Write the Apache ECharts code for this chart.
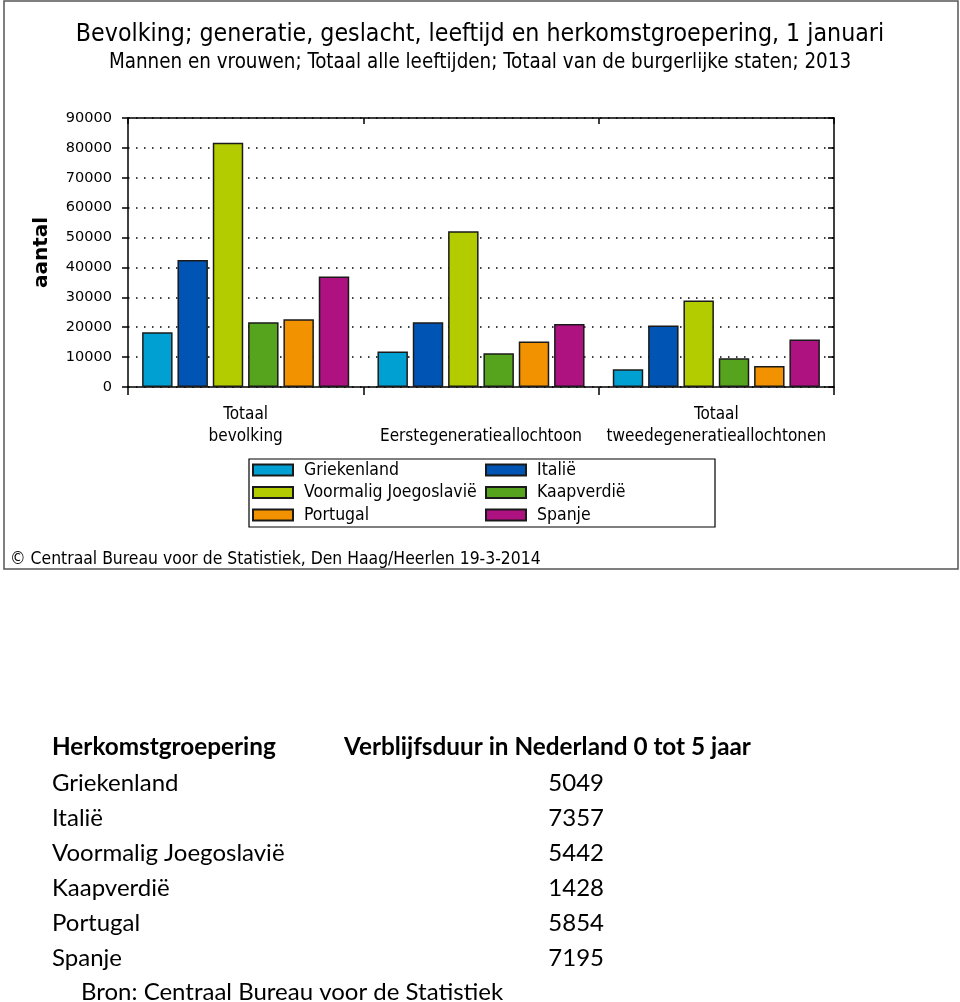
<!DOCTYPE html>
<html>
<head>
<meta charset="utf-8">
<script src="https://cdn.jsdelivr.net/npm/echarts@6/dist/echarts.min.js"></script>
<style>
html,body{margin:0;padding:0;background:#fff;}
#chart{width:960px;height:1002px;}
</style>
</head>
<body>
<div id="chart"></div>
<script>
// ---- data ----
var categories = ["Totaal\nbevolking", "Eerstegeneratieallochtoon", "Totaal\ntweedegeneratieallochtonen"];
var seriesNames = ["Griekenland", "Italië", "Voormalig Joegoslavië", "Kaapverdië", "Portugal", "Spanje"];
var griekenland = [18300, 11900, 5900];
var italie = [42500, 21700, 20600];
var joegoslavie = [81700, 52100, 28900];
var kaapverdie = [21700, 11300, 9600];
var portugal = [22700, 15200, 7000];
var spanje = [37000, 21100, 15900];
var yTicks = [0, 10000, 20000, 30000, 40000, 50000, 60000, 70000, 80000, 90000];

var tableHeader = ["Herkomstgroepering", "Verblijfsduur in Nederland 0 tot 5 jaar"];
var tableNames = ["Griekenland", "Italië", "Voormalig Joegoslavië", "Kaapverdië", "Portugal", "Spanje"];
var tableValues = [5049, 7357, 5442, 1428, 5854, 7195];
var tableSource = "Bron: Centraal Bureau voor de Statistiek";

var titleText = "Bevolking; generatie, geslacht, leeftijd en herkomstgroepering, 1 januari";
var subtitleText = "Mannen en vrouwen; Totaal alle leeftijden; Totaal van de burgerlijke staten; 2013";
var footerText = "© Centraal Bureau voor de Statistiek, Den Haag/Heerlen 19-3-2014";

// ---- styles ----
var colors = ["#00a0d2", "#0055b4", "#b2cc00", "#56a41e", "#f39200", "#ae1180"];
var seriesData = [griekenland, italie, joegoslavie, kaapverdie, portugal, spanje];
var FONT = "'DejaVu Sans Condensed', 'Liberation Sans Narrow', 'DejaVu Sans', sans-serif";
var TFONT = "Lato, 'Noto Sans', sans-serif";

var chart = echarts.init(document.getElementById('chart'), null, {renderer: 'canvas'});

var series = seriesNames.map(function (n, i) {
  return {
    name: n,
    type: 'bar',
    data: seriesData[i],
    barGap: '16%',
    barCategoryGap: '12%',
    itemStyle: {color: colors[i], borderColor: '#1a1a1a', borderWidth: 1.5},
    z: 3
  };
});

var graphics = [
  {type: 'rect', shape: {x: 4, y: 1, width: 954, height: 568},
   style: {fill: 'none', stroke: '#555', lineWidth: 1.5}, silent: true},
  {type: 'text', left: 'center', top: 22,
   style: {text: titleText, font: "24.7px " + FONT, fill: '#000'}},
  {type: 'text', left: 'center', top: 53,
   style: {text: subtitleText, font: "20.4px " + FONT, fill: '#000'}},
  {type: 'rect', shape: {x: 249, y: 459, width: 466, height: 68},
   style: {fill: 'none', stroke: '#000', lineWidth: 1.2}, silent: true},
  {type: 'text', left: 10, top: 551,
   style: {text: footerText, font: "17.4px " + FONT, fill: '#000'}}
];

// table text
graphics.push({type: 'text', left: 52, top: 735,
  style: {text: tableHeader[0], font: "bold 24.3px " + TFONT, fill: '#000'}});
graphics.push({type: 'text', left: 344, top: 735,
  style: {text: tableHeader[1], font: "bold 24.3px " + TFONT, fill: '#000'}});
tableNames.forEach(function (n, i) {
  graphics.push({type: 'text', left: 52, top: 771 + i * 35,
    style: {text: n, font: "24px " + TFONT, fill: '#000'}});
  graphics.push({type: 'text', x: 604, y: 771 + i * 35,
    style: {text: String(tableValues[i]), font: "24px " + TFONT, fill: '#000', align: 'right', verticalAlign: 'top'}});
});
graphics.push({type: 'text', left: 81, top: 980,
  style: {text: tableSource, font: "24px " + TFONT, fill: '#000'}});

var legendCommon = {
  orient: 'vertical',
  padding: 0,
  itemWidth: 40,
  itemHeight: 11,
  itemGap: 4.5,
  icon: 'rect',
  textStyle: {fontFamily: FONT, fontSize: 17.5, color: '#000', lineHeight: 17, padding: [0, 0, 0, 6]},
  selectedMode: false
};

var option = {
  animation: false,
  color: colors,
  grid: {left: 128, top: 118, width: 706, height: 269, containLabel: false},
  legend: [
    Object.assign({left: 252, top: 461, data: ["Griekenland", "Voormalig Joegoslavië", "Portugal"]}, legendCommon),
    Object.assign({left: 485, top: 461, data: ["Italië", "Kaapverdië", "Spanje"]}, legendCommon)
  ],
  xAxis: [
    {
      type: 'category', data: categories, position: 'bottom',
      axisLine: {lineStyle: {color: '#000', width: 1.5}},
      axisTick: {show: true, length: 8, lineStyle: {color: '#000', width: 1.5}},
      axisLabel: {fontFamily: FONT, fontSize: 17, color: '#000', lineHeight: 22,
                  verticalAlign: 'bottom', margin: 61, interval: 0}
    },
    {
      type: 'category', data: categories, position: 'top',
      axisLine: {onZero: false, lineStyle: {color: '#000', width: 1.5}},
      axisTick: {show: true, inside: true, length: 6, lineStyle: {color: '#000', width: 1.5}},
      axisLabel: {show: false}
    }
  ],
  yAxis: [
    {
      type: 'value', min: 0, max: 90000, interval: 10000,
      name: 'aantal', nameLocation: 'middle', nameGap: 76, nameRotate: 90,
      nameTextStyle: {fontFamily: "'DejaVu Sans', sans-serif", fontWeight: 'bold', fontSize: 20, color: '#000'},
      axisLine: {show: true, lineStyle: {color: '#000', width: 1.5}},
      axisTick: {show: true, length: 6, lineStyle: {color: '#000', width: 1.5}},
      axisLabel: {fontFamily: "'DejaVu Sans', sans-serif", fontSize: 14.5, color: '#000', margin: 16,
                  formatter: function (v) { return String(v); }},
      splitLine: {show: true, lineStyle: {color: '#000', type: [1.5, 6.5], width: 1.5}}
    },
    {
      type: 'value', min: 0, max: 90000, interval: 10000, position: 'right',
      axisLine: {show: true, onZero: false, lineStyle: {color: '#000', width: 1.5}},
      axisTick: {show: true, inside: true, length: 6, lineStyle: {color: '#000', width: 1.5}},
      axisLabel: {show: false},
      splitLine: {show: false}
    }
  ],
  series: series,
  graphic: graphics
};

chart.setOption(option);
</script>
</body>
</html>
